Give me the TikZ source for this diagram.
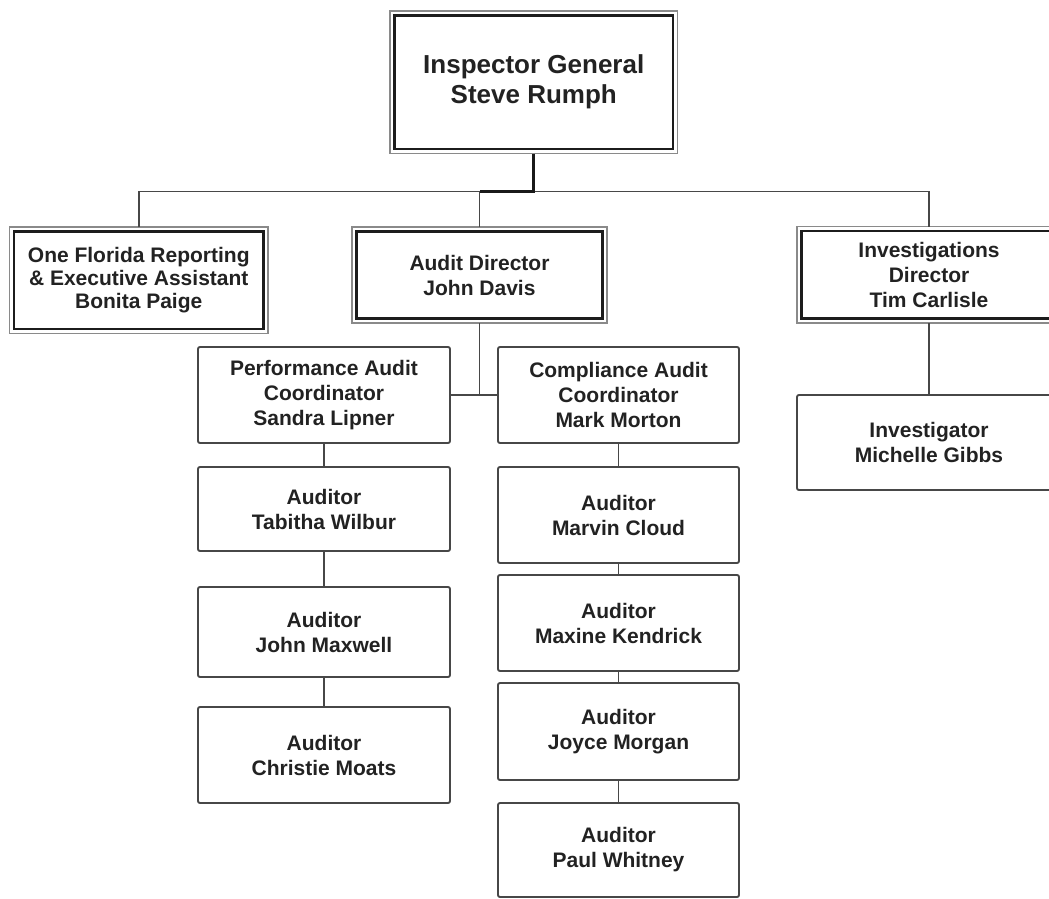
\documentclass[tikz,border=0pt]{standalone}
\usepackage{fontspec}
\setmainfont{Liberation Sans}
\definecolor{ln}{HTML}{474747}
\definecolor{txt}{HTML}{222222}
\definecolor{outg}{HTML}{8A8A8A}
\definecolor{innd}{HTML}{1C1C1C}
\begin{document}
\begin{tikzpicture}[x=1pt,y=-1pt,
  every node/.style={text=txt, align=center, inner sep=0pt, outer sep=0pt},
  fnt/.style={font=\fontsize{21}{25}\selectfont\bfseries},
  sbox/.style={fnt, draw=ln, line width=1.9pt, rounded corners=2pt, fill=white},
  dbox/.style={fnt, draw=outg, line width=1.8pt, fill=white,
    path picture={\draw[draw=innd, line width=2.2pt]
      ([shift={(4.5pt,-4.5pt)}]path picture bounding box.north west) rectangle
      ([shift={(-4.5pt,4.5pt)}]path picture bounding box.south east);}},
  conn/.style={draw=ln, line width=1.9pt},
  thickconn/.style={draw=black!90, line width=3pt},
]
\useasboundingbox (0,0) rectangle (1049,899);
\fill[white] (0,0) rectangle (1049,899);

% double-framed boxes
\node[dbox, font=\fontsize{26}{30}\selectfont\bfseries, minimum width=287.5pt, minimum height=142.5pt] (ig) at (533.75,82.25) {Inspector General\\Steve Rumph};
\node[dbox, font=\fontsize{21}{23.3}\selectfont\bfseries, minimum width=258.5pt, minimum height=106.5pt] (ofr) at (138.75,280.25) {One Florida Reporting\\\& Executive Assistant\\Bonita Paige};
\node[dbox, minimum width=255pt, minimum height=96pt] (ad) at (479.5,275) {Audit Director\\John Davis};
\node[dbox, minimum width=264pt, minimum height=96.5pt] (inv) at (929,274.75) {Investigations\\Director\\Tim Carlisle};

% single boxes, left column
\node[sbox, minimum width=252pt, minimum height=96pt] (perf) at (324,395) {Performance Audit\\Coordinator\\Sandra Lipner};
\node[sbox, minimum width=252pt, minimum height=84pt] (tab) at (324,509) {Auditor\\Tabitha Wilbur};
\node[sbox, minimum width=252pt, minimum height=90pt] (jmax) at (324,632) {Auditor\\John Maxwell};
\node[sbox, minimum width=252pt, minimum height=96pt] (chr) at (324,755) {Auditor\\Christie Moats};

% single boxes, right column
\node[sbox, minimum width=241pt, minimum height=96pt] (comp) at (618.5,395) {Compliance Audit\\Coordinator\\Mark Morton};
\node[sbox, minimum width=241pt, minimum height=96pt] (marv) at (618.5,515) {Auditor\\Marvin Cloud};
\node[sbox, minimum width=241pt, minimum height=96pt] (maxk) at (618.5,623) {Auditor\\Maxine Kendrick};
\node[sbox, minimum width=241pt, minimum height=97pt] (joy) at (618.5,731.5) {Auditor\\Joyce Morgan};
\node[sbox, minimum width=241pt, minimum height=94pt] (paul) at (618.5,850) {Auditor\\Paul Whitney};

% investigator
\node[sbox, minimum width=264pt, minimum height=95pt] (invst) at (929,442.5) {Investigator\\Michelle Gibbs};

% connectors
\coordinate (bus) at (0,191.5);
\draw[conn] (ofr.north) -- (ofr.north |- bus) -- (inv.north |- bus) -- (inv.north);
\draw[conn] (ad.north |- bus) -- (ad.north);
\draw[thickconn] (ig.south) -- (ig.south |- bus) -- (ad.north |- bus);
\draw[conn] (ad.south) -- (ad.south |- perf.east);
\draw[conn] (perf.east) -- (comp.west);
\draw[conn] (inv.south) -- (invst.north);
\draw[conn] (perf.south) -- (tab.north);
\draw[conn] (tab.south) -- (jmax.north);
\draw[conn] (jmax.south) -- (chr.north);
\draw[conn] (comp.south) -- (marv.north);
\draw[conn] (marv.south) -- (maxk.north);
\draw[conn] (maxk.south) -- (joy.north);
\draw[conn] (joy.south) -- (paul.north);
\end{tikzpicture}
\end{document}
